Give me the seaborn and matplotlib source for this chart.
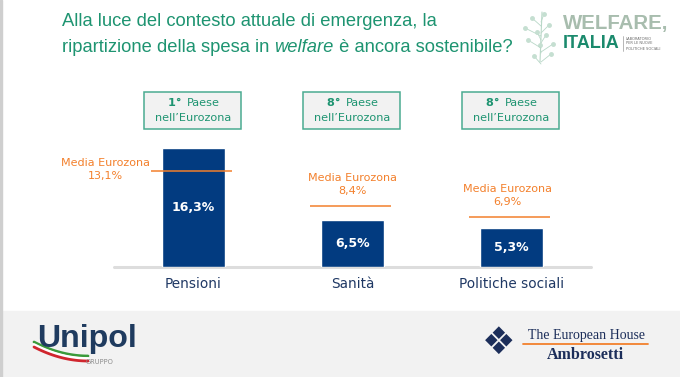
"""Spesa in welfare: Italia vs media Eurozona (Pensioni, Sanità, Politiche sociali)."""
import numpy as np
import matplotlib
matplotlib.use("Agg")
import matplotlib.pyplot as plt
import matplotlib.patches as mpatches
import matplotlib.transforms as mtransforms
from matplotlib.lines import Line2D
import pandas as pd
import seaborn as sns

CATEGORIES = ["Pensioni", "Sanità", "Politiche sociali"]
SPESA = [16.3, 6.5, 5.3]                 # % del PIL, Italia
MEDIA_EUROZONA = [13.1, 8.4, 6.9]        # % del PIL, media Eurozona
RANK = ["1°", "8°", "8°"]
VALUE_LABELS = ["16,3%", "6,5%", "5,3%"]
MEDIA_LABELS = ["13,1%", "8,4%", "6,9%"]

NAVY = "#023b80"
TEAL = "#1e9471"
ORANGE = "#f3802c"
W, H = 680, 377
SANS = ["Liberation Sans", "DejaVu Sans"]
SERIF = ["Liberation Serif", "DejaVu Serif"]


def px(x, y):
    # pixel position (from top-left) -> figure fraction
    return x / W, 1 - y / H


def fit_width(text, width, renderer):
    # shrink/grow a text so that it spans `width` pixels
    w = text.get_window_extent(renderer).width
    text.set_fontsize(text.get_fontsize() * width / w)


def main():
    sns.set_style("white")
    plt.rcParams["font.family"] = ["DejaVu Sans"]

    fig = plt.figure(figsize=(6.8, 3.77), dpi=100)
    fig.patch.set_facecolor("white")
    renderer = fig.canvas.get_renderer()

    # footer band and left border
    fig.patches.append(mpatches.Rectangle((0, 0), 1, 66 / H, transform=fig.transFigure,
                                          color="#f2f2f2", zorder=0))
    fig.patches.append(mpatches.Rectangle((0, 0), 2 / W, 1, transform=fig.transFigure,
                                          color="#cfcfcf", zorder=0))

    ax = fig.add_axes([114 / W, 110 / H, 477 / W, 146 / H])
    data = pd.DataFrame({"categoria": CATEGORIES, "spesa": SPESA})
    sns.barplot(data=data, x="categoria", y="spesa", order=CATEGORIES, color=NAVY,
                saturation=1, width=0.4, ax=ax)
    ax.set_xlim(-0.5, 2.5)
    ax.set_ylim(0, 20)
    ax.axhline(0, color="#dddddd", lw=2.2, clip_on=False, zorder=0)
    sns.despine(ax=ax, left=True, bottom=True)
    ax.set_yticks([])
    ax.set_xlabel("")
    ax.set_ylabel("")
    ax.tick_params(axis="x", length=0, pad=7, labelsize=9.8, labelcolor="#1f3864")

    # values inside bars
    for i, (v, lab) in enumerate(zip(SPESA, VALUE_LABELS)):
        ax.text(i, v / 2, lab, ha="center", va="center", color="white",
                fontsize=9, fontweight="bold")

    # Eurozone average lines and labels
    label_dx = [-0.553, 0.0, -0.025]
    label_dy = [1.5, 15.0, 15.5]
    for i, (m, lab) in enumerate(zip(MEDIA_EUROZONA, MEDIA_LABELS)):
        ax.hlines(m, i - 0.27, i + 0.24, color=ORANGE, lw=1.1, zorder=3)
        ax.annotate("Media Eurozona\n" + lab, xy=(i + label_dx[i], m), xytext=(0, label_dy[i]),
                    textcoords="offset points", ha="center", va="center", color=ORANGE,
                    fontsize=8, linespacing=1.35, annotation_clip=False)

    # rank boxes
    trans = mtransforms.blended_transform_factory(ax.transData, fig.transFigure)
    y0, y1 = 1 - 129 / H, 1 - 92 / H
    for i, r in enumerate(RANK):
        ax.add_patch(mpatches.Rectangle((i - 0.31, y0), 0.61, y1 - y0, transform=trans,
                                        facecolor="#f2f2f2", edgecolor="#4aab91", lw=1.1,
                                        clip_on=False))
        ax.text(i - 0.05, 1 - 103 / H, r + " ", transform=trans, ha="right", va="center",
                color=TEAL, fontsize=8.1, fontweight="bold", clip_on=False)
        ax.text(i - 0.04, 1 - 103 / H, "Paese", transform=trans, ha="left", va="center",
                color=TEAL, fontsize=8.1, clip_on=False)
        ax.text(i - 0.005, 1 - 118 / H, "nell\u2019Eurozona", transform=trans, ha="center",
                va="center", color=TEAL, fontsize=8.1, clip_on=False)

    # title (second line has italic "welfare"), sized to span the reference width
    parts = [("ripartizione della spesa in ", "normal"), ("welfare", "italic"),
             (" è ancora sostenibile?", "normal")]
    probe = [fig.text(0, 0, p, fontsize=15, family=SANS, style=s) for p, s in parts]
    total = sum(t.get_window_extent(renderer).width for t in probe)
    for t in probe:
        t.remove()
    size = 15 * 450 / total
    fig.text(*px(62, 22), "Alla luce del contesto attuale di emergenza, la", color=TEAL,
             fontsize=size, family=SANS, va="center")
    x = 62
    for part, style in parts:
        t = fig.text(*px(x, 47), part, color=TEAL, fontsize=size, family=SANS,
                     style=style, va="center")
        x += t.get_window_extent(renderer).width

    # WELFARE, ITALIA logo
    t = fig.text(*px(563, 24), "WELFARE,", color="#a8bdae", fontsize=18, fontweight="bold",
                 family=SANS, va="center")
    fit_width(t, 105, renderer)
    t = fig.text(*px(563, 43), "ITALIA", color="#1b8a6d", fontsize=15, fontweight="bold",
                 family=SANS, va="center")
    fit_width(t, 57, renderer)
    fig.lines.append(Line2D([623 / W, 623 / W], [1 - 36 / H, 1 - 51 / H],
                            transform=fig.transFigure, color="#9a9a9a", lw=0.5))
    for yy, line in zip([38.5, 43.5, 48.5], ["LABORATORIO", "PER LE NUOVE", "POLITICHE SOCIALI"]):
        fig.text(*px(626, yy), line, color="#6b6b6b", fontsize=2.6, va="center")
    # plant sprig
    leaf_x = [534, 540, 546, 549, 528, 525, 553, 532, 544, 537, 551]
    leaf_y = [56, 45, 35, 25, 40, 28, 44, 18, 14, 32, 54]
    fig.lines.append(Line2D([540 / W, 542 / W], [1 - 62 / H, 1 - 12 / H],
                            transform=fig.transFigure, color="#b9d8c8", lw=0.8))
    for xx, yy in zip(leaf_x, leaf_y):
        fig.lines.append(Line2D([541 / W, xx / W], [1 - (yy + 8) / H, 1 - yy / H],
                                transform=fig.transFigure, color="#b9d8c8", lw=0.6))
        fig.lines.append(Line2D([xx / W], [1 - yy / H], transform=fig.transFigure,
                                marker="o", ms=2.5, color="#c5dfd1", lw=0))

    # Unipol logo
    t = fig.text(*px(37, 339), "Unipol", color="#1f3b5f", fontsize=25, fontweight="bold",
                 family=SANS, va="center")
    fit_width(t, 100, renderer)
    fig.text(*px(86, 362), "GRUPPO", color="#8c8c8c", fontsize=4.8, va="center")
    tt = np.linspace(0, 1, 30)
    for off, col in [(0, "#3a9a3a"), (2.5, "#ffffff"), (5, "#d0262e")]:
        xs = 34 + 54 * tt
        ys = 342 + off + 14 * (1 - (1 - tt) ** 2)
        fig.lines.append(Line2D(xs / W, 1 - ys / H, transform=fig.transFigure, color=col, lw=2))

    # The European House - Ambrosetti logo
    fig.text(*px(499, 344), "\u2756", color="#1c2e5a", fontsize=27, ha="center", va="center")
    fig.text(*px(586, 335), "The European House", color="#1c2e5a", fontsize=10,
             family=SERIF, ha="center", va="center")
    fig.lines.append(Line2D([523 / W, 648 / W], [1 - 344 / H, 1 - 344 / H],
                            transform=fig.transFigure, color=ORANGE, lw=1.3))
    fig.text(*px(585, 355), "Ambrosetti", color="#1c2e5a", fontsize=11.5, fontweight="bold",
             family=SERIF, ha="center", va="center")

    fig.savefig("out.png", dpi=100)


if __name__ == "__main__":
    main()
